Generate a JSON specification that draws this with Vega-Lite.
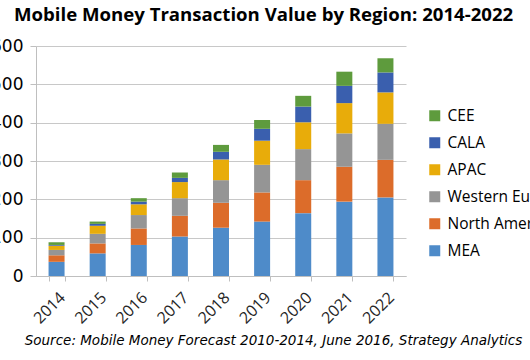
{
  "$schema": "https://vega.github.io/schema/vega-lite/v6.json",
  "autosize": {"type": "none"},
  "width": 370,
  "height": 230,
  "padding": {"left": 36, "top": 46, "right": 124, "bottom": 84},
  "background": "white",
  "title": {
    "text": "Mobile Money Transaction Value by Region: 2014-2022",
    "anchor": "start",
    "frame": "group",
    "dx": -22,
    "offset": 12,
    "font": "Open Sans",
    "fontSize": 18.6,
    "fontWeight": "bold",
    "color": "#000000"
  },
  "data": {
    "values": [
      {"year": "2014", "region": "MEA", "k": 1, "value": 37},
      {"year": "2014", "region": "North America", "k": 2, "value": 17},
      {"year": "2014", "region": "Western Europe", "k": 3, "value": 14},
      {"year": "2014", "region": "APAC", "k": 4, "value": 11},
      {"year": "2014", "region": "CALA", "k": 5, "value": 2},
      {"year": "2014", "region": "CEE", "k": 6, "value": 7},
      {"year": "2015", "region": "MEA", "k": 1, "value": 59},
      {"year": "2015", "region": "North America", "k": 2, "value": 26},
      {"year": "2015", "region": "Western Europe", "k": 3, "value": 25},
      {"year": "2015", "region": "APAC", "k": 4, "value": 21},
      {"year": "2015", "region": "CALA", "k": 5, "value": 5},
      {"year": "2015", "region": "CEE", "k": 6, "value": 6},
      {"year": "2016", "region": "MEA", "k": 1, "value": 81},
      {"year": "2016", "region": "North America", "k": 2, "value": 43},
      {"year": "2016", "region": "Western Europe", "k": 3, "value": 35},
      {"year": "2016", "region": "APAC", "k": 4, "value": 28},
      {"year": "2016", "region": "CALA", "k": 5, "value": 7},
      {"year": "2016", "region": "CEE", "k": 6, "value": 9},
      {"year": "2017", "region": "MEA", "k": 1, "value": 103},
      {"year": "2017", "region": "North America", "k": 2, "value": 54},
      {"year": "2017", "region": "Western Europe", "k": 3, "value": 46},
      {"year": "2017", "region": "APAC", "k": 4, "value": 42},
      {"year": "2017", "region": "CALA", "k": 5, "value": 11},
      {"year": "2017", "region": "CEE", "k": 6, "value": 14},
      {"year": "2018", "region": "MEA", "k": 1, "value": 126},
      {"year": "2018", "region": "North America", "k": 2, "value": 65},
      {"year": "2018", "region": "Western Europe", "k": 3, "value": 59},
      {"year": "2018", "region": "APAC", "k": 4, "value": 54},
      {"year": "2018", "region": "CALA", "k": 5, "value": 20},
      {"year": "2018", "region": "CEE", "k": 6, "value": 18},
      {"year": "2019", "region": "MEA", "k": 1, "value": 142},
      {"year": "2019", "region": "North America", "k": 2, "value": 76},
      {"year": "2019", "region": "Western Europe", "k": 3, "value": 72},
      {"year": "2019", "region": "APAC", "k": 4, "value": 63},
      {"year": "2019", "region": "CALA", "k": 5, "value": 31},
      {"year": "2019", "region": "CEE", "k": 6, "value": 23},
      {"year": "2020", "region": "MEA", "k": 1, "value": 164},
      {"year": "2020", "region": "North America", "k": 2, "value": 86},
      {"year": "2020", "region": "Western Europe", "k": 3, "value": 81},
      {"year": "2020", "region": "APAC", "k": 4, "value": 70},
      {"year": "2020", "region": "CALA", "k": 5, "value": 41},
      {"year": "2020", "region": "CEE", "k": 6, "value": 28},
      {"year": "2021", "region": "MEA", "k": 1, "value": 194},
      {"year": "2021", "region": "North America", "k": 2, "value": 91},
      {"year": "2021", "region": "Western Europe", "k": 3, "value": 87},
      {"year": "2021", "region": "APAC", "k": 4, "value": 79},
      {"year": "2021", "region": "CALA", "k": 5, "value": 45},
      {"year": "2021", "region": "CEE", "k": 6, "value": 37},
      {"year": "2022", "region": "MEA", "k": 1, "value": 205},
      {"year": "2022", "region": "North America", "k": 2, "value": 98},
      {"year": "2022", "region": "Western Europe", "k": 3, "value": 94},
      {"year": "2022", "region": "APAC", "k": 4, "value": 82},
      {"year": "2022", "region": "CALA", "k": 5, "value": 52},
      {"year": "2022", "region": "CEE", "k": 6, "value": 37}
    ]
  },
  "mark": {"type": "bar", "width": 16},
  "encoding": {
    "x": {
      "field": "year",
      "type": "ordinal",
      "scale": {"paddingInner": 0.61, "paddingOuter": 0.305},
      "axis": {
        "title": "Source: Mobile Money Forecast 2010-2014, June 2016, Strategy Analytics",
        "titleFont": "DejaVu Sans",
        "titleFontStyle": "italic",
        "titleFontWeight": "normal",
        "titleFontSize": 13.5,
        "titleColor": "#000000",
        "titleX": 237,
        "titleY": 64,
        "titleAlign": "center",
        "titleBaseline": "middle",
        "labelAngle": -45,
        "labelFont": "Open Sans",
        "labelFontSize": 16,
        "labelColor": "#262626",
        "labelPadding": 8,
        "tickBand": "extent",
        "tickSize": 5,
        "tickColor": "#bfbfbf",
        "domainColor": "#bfbfbf",
        "grid": false
      }
    },
    "y": {
      "field": "value",
      "type": "quantitative",
      "aggregate": "sum",
      "stack": "zero",
      "scale": {"domain": [0, 600], "nice": false},
      "axis": {
        "title": null,
        "values": [0, 100, 200, 300, 400, 500, 600],
        "format": "d",
        "labelFont": "DejaVu Sans",
        "labelFontSize": 17,
        "labelColor": "#000000",
        "labelPadding": 7,
        "tickSize": 6,
        "tickColor": "#bfbfbf",
        "domainColor": "#bfbfbf",
        "gridColor": "#c8c8c8",
        "grid": true
      }
    },
    "color": {
      "field": "region",
      "type": "nominal",
      "scale": {
        "domain": ["CEE", "CALA", "APAC", "Western Europe", "North America", "MEA"],
        "range": ["#5e9b3d", "#3a5fae", "#e8ac0a", "#959595", "#dc6c2a", "#4e8bc9"]
      },
      "legend": {
        "title": null,
        "orient": "none",
        "legendX": 391,
        "legendY": 62,
        "symbolType": "square",
        "symbolSize": 121,
        "symbolStrokeWidth": 0,
        "labelFont": "Open Sans",
        "labelFontSize": 15.5,
        "labelColor": "#000000",
        "labelOffset": 5,
        "labelLimit": 0,
        "rowPadding": 10,
        "padding": 0
      }
    },
    "order": {"field": "k", "type": "quantitative", "sort": "ascending"}
  },
  "config": {
    "view": {"stroke": null}
  }
}
